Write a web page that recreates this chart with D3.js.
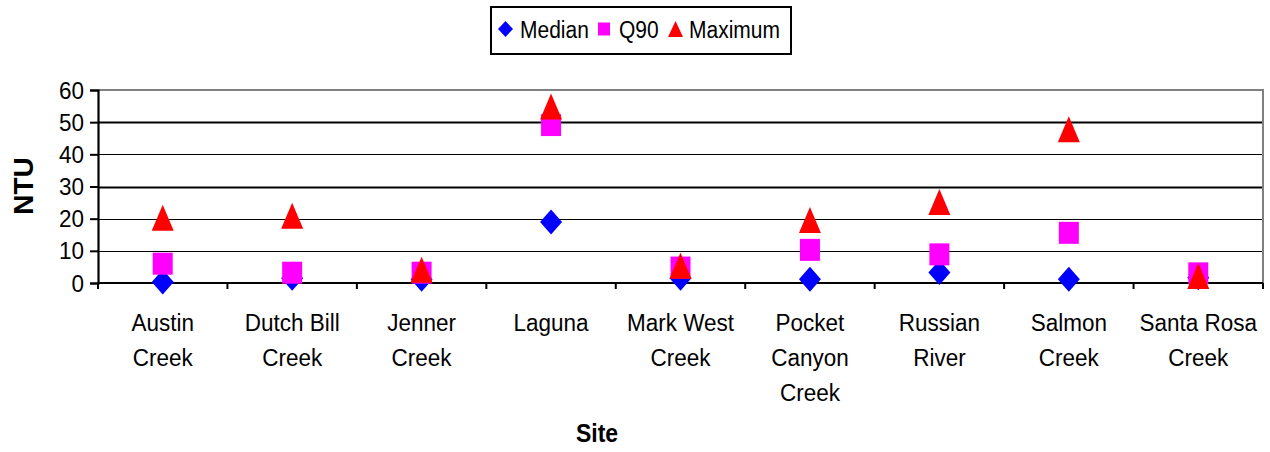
<!DOCTYPE html>
<html>
<head>
<meta charset="utf-8">
<script src="https://cdn.jsdelivr.net/npm/d3@7"></script>
<style>
  html, body { margin: 0; padding: 0; background: #fff; }
  svg { display: block; font-family: "Liberation Sans", Arial, sans-serif; }
</style>
</head>
<body>
<svg id="chart" width="1270" height="452"></svg>
<script>
// Turbidity summary by sampling site (NTU)
const sites = ["Austin Creek", "Dutch Bill Creek", "Jenner Creek", "Laguna", "Mark West Creek",
               "Pocket Canyon Creek", "Russian River", "Salmon Creek", "Santa Rosa Creek"];
const siteLabelLines = [["Austin", "Creek"], ["Dutch Bill", "Creek"], ["Jenner", "Creek"], ["Laguna"],
                        ["Mark West", "Creek"], ["Pocket", "Canyon", "Creek"], ["Russian", "River"],
                        ["Salmon", "Creek"], ["Santa Rosa", "Creek"]];
const median  = [0.3, 1.5, 1.2, 19.0, 1.5, 1.2, 3.3, 1.2, 1.6];
const q90     = [6.0, 3.2, 3.2, 49.1, 4.8, 10.3, 8.9, 15.6, 3.0];
const maximum = [20.3, 20.9, 4.1, 54.9, 5.4, 19.6, 25.2, 47.8, 2.2];
const yTicks  = [0, 10, 20, 30, 40, 50, 60];

const svg = d3.select("#chart");
const plot = { left: 98, right: 1263, top: 90, bottom: 283 };
const STRETCH = 1.1; // slightly tall lettering

const x = d3.scaleBand().domain(sites).range([plot.left, plot.right]).padding(0);
const y = d3.scaleLinear().domain([0, 60]).range([plot.bottom, plot.top]);

// marker shapes
const shapes = {
  diamond: (w, h) => `M0,${-h/2}L${w/2},0L0,${h/2}L${-w/2},0Z`,
  square:  (w, h) => `M${-w/2},${-h/2}H${w/2}V${h/2}H${-w/2}Z`,
  triangle:(w, h) => `M0,${-h/2}L${w/2},${h/2}L${-w/2},${h/2}Z`
};

function text(g, str, px, py, opts) {
  const t = g.append("text")
    .attr("transform", `translate(${px},${py}) scale(1,${STRETCH})${opts.rotate ? " rotate(" + opts.rotate + ")" : ""}`)
    .attr("font-size", opts.size)
    .attr("font-weight", opts.bold ? "bold" : "normal")
    .attr("text-anchor", opts.anchor || "start")
    .attr("fill", "#000")
    .text(str);
  return t;
}

// gridlines (30 and 50 heavier)
svg.append("g").selectAll("line")
  .data(yTicks.filter(d => d > 0 && d < 60))
  .join("line")
  .attr("x1", plot.left).attr("x2", plot.right)
  .attr("y1", d => Math.round(y(d)) + 0.5).attr("y2", d => Math.round(y(d)) + 0.5)
  .attr("stroke", "#000")
  .attr("stroke-width", d => (d === 30 || d === 50) ? 2 : 1.2);

// plot-area frame top / right
svg.append("path")
  .attr("d", `M${plot.left},${y(60)}H${plot.right}V${plot.bottom}`)
  .attr("fill", "none").attr("stroke", "#808080").attr("stroke-width", 2);

// y axis
const yAxis = d3.axisLeft(y).tickValues(yTicks).tickSize(8).tickPadding(6).tickFormat(d3.format("d"));
const gy = svg.append("g").attr("transform", `translate(${plot.left},0)`).call(yAxis);
gy.select(".domain").attr("stroke", "#000").attr("stroke-width", 2.2);
gy.selectAll(".tick line").attr("stroke", "#000").attr("stroke-width", 2);
gy.selectAll(".tick text").remove();
yTicks.forEach(v => text(svg, String(v), plot.left - 14, y(v) + 8.5, { size: 22.5, anchor: "end" }));

// x axis line and boundary ticks
svg.append("line")
  .attr("x1", plot.left).attr("x2", plot.right)
  .attr("y1", plot.bottom).attr("y2", plot.bottom)
  .attr("stroke", "#000").attr("stroke-width", 2.2);
const bounds = sites.map(s => x(s)).concat([x.range()[1]]);
svg.append("g").selectAll("line").data(bounds).join("line")
  .attr("x1", d => d).attr("x2", d => d)
  .attr("y1", plot.bottom).attr("y2", plot.bottom + 6)
  .attr("stroke", "#000").attr("stroke-width", 2);

// category labels
const gl = svg.append("g");
sites.forEach((s, i) => {
  const cx = x(s) + x.bandwidth() / 2;
  siteLabelLines[i].forEach((line, j) => {
    text(gl, line, cx, 331 + j * 35, { size: 22.5, anchor: "middle" });
  });
});

// axis titles
text(svg, "Site", 597, 442, { size: 23, bold: true, anchor: "middle" });
svg.append("text")
  .attr("transform", `translate(33,186) rotate(-90)`)
  .attr("font-size", 28).attr("font-weight", "bold").attr("text-anchor", "middle")
  .text("NTU");

// series
const series = [
  { name: "Median",  values: median,  color: "#0000ff", shape: "diamond",  w: 22, h: 25, lw: 15, lh: 16 },
  { name: "Q90",     values: q90,     color: "#ff00ff", shape: "square",   w: 20, h: 22, lw: 12, lh: 13 },
  { name: "Maximum", values: maximum, color: "#ff0000", shape: "triangle", w: 22, h: 26, lw: 15, lh: 16 }
];

series.forEach(sr => {
  svg.append("g").selectAll("path")
    .data(sr.values)
    .join("path")
    .attr("transform", (d, i) => `translate(${x(sites[i]) + x.bandwidth() / 2},${y(d)})`)
    .attr("d", shapes[sr.shape](sr.w, sr.h))
    .attr("fill", sr.color);
});

// legend
const lg = svg.append("g");
lg.append("rect").attr("x", 491).attr("y", 7).attr("width", 300).attr("height", 47)
  .attr("fill", "#fff").attr("stroke", "#000").attr("stroke-width", 2);
const legendPos = [{ mx: 505.5, tx: 520 }, { mx: 604, tx: 619 }, { mx: 675.5, tx: 689 }];
series.forEach((sr, i) => {
  lg.append("path")
    .attr("transform", `translate(${legendPos[i].mx},29)`)
    .attr("d", shapes[sr.shape](sr.lw, sr.lh))
    .attr("fill", sr.color);
  text(lg, sr.name, legendPos[i].tx, 38, { size: 21, anchor: "start" });
});
</script>
</body>
</html>
